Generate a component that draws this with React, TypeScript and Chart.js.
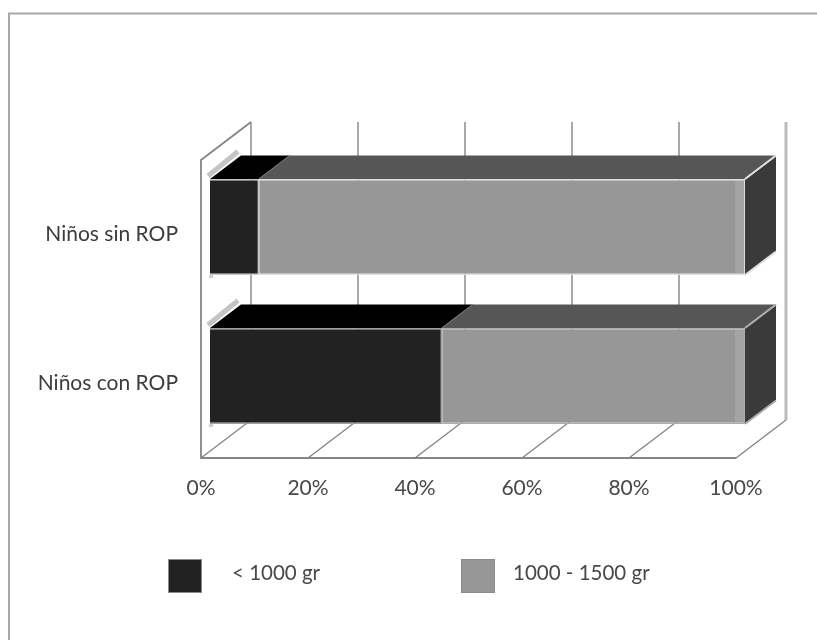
import React, { useEffect, useRef } from "react";
import { Chart, registerables } from "chart.js";

Chart.register(...registerables);

const categories = ["Niños sin ROP", "Niños con ROP"];
const under1000 = [9.2, 43.4];
const from1000to1500 = [90.8, 56.6];
const seriesNames = ["< 1000 gr", "1000 - 1500 gr"];
const percentTicks = [0, 20, 40, 60, 80, 100];

const frontColors = ["#222222", "#979797"];
const topColors = ["#000000", "#565656"];
const sideColor = "#3a3a3a";
const edgeColors = ["#dedede", "#adadad"];
const wallColor = "#858585";
const textColor = "#484848";
const fontFamily = "Lato";

// Oblique projection used for the fake 3D box
const box = {
  wallDx: 50,
  wallDy: -38,
  barDx: 9,
  barDy: -7.5,
  depthDx: 31,
  depthDy: -23.5,
};

function segment(ctx: CanvasRenderingContext2D, pts: number[][], color: string, width = 1) {
  ctx.beginPath();
  pts.forEach(([x, y], i) => (i ? ctx.lineTo(x, y) : ctx.moveTo(x, y)));
  ctx.strokeStyle = color;
  ctx.lineWidth = width;
  ctx.stroke();
}

function polygon(ctx: CanvasRenderingContext2D, pts: number[][], color: string) {
  ctx.beginPath();
  pts.forEach(([x, y], i) => (i ? ctx.lineTo(x, y) : ctx.moveTo(x, y)));
  ctx.closePath();
  ctx.fillStyle = color;
  ctx.fill();
}

const box3d = {
  id: "box3d",
  beforeDatasetsDraw(chart: any) {
    const { ctx, chartArea: area, scales } = chart;
    const { wallDx, wallDy, barDx, barDy, depthDx, depthDy } = box;
    ctx.save();
    // Outer frame, open on the right and at the bottom
    segment(ctx, [[9, chart.height], [9, 13.5], [chart.width, 13.5]], "#a8a8a8", 2);

    // Floor diagonals and back-wall verticals at every tick
    percentTicks.forEach((t) => {
      const x = scales.x.getPixelForValue(t);
      const last = t === percentTicks[percentTicks.length - 1];
      if (last) {
        segment(ctx, [[x, area.bottom], [x + wallDx, area.bottom + wallDy]], wallColor, 1.4);
        segment(ctx, [[x + wallDx, area.bottom + wallDy], [x + wallDx, area.top + wallDy]], "#bcbcbc", 3);
      } else {
        segment(ctx, [[x, area.bottom], [x + wallDx, area.bottom + wallDy], [x + wallDx, area.top + wallDy]], wallColor, 1.4);
      }
    });
    // Left wall and front floor edge
    segment(
      ctx,
      [
        [area.left + wallDx, area.top + wallDy],
        [area.left, area.top],
        [area.left, area.bottom],
        [area.right, area.bottom],
      ],
      wallColor,
      1.8,
    );

    // Bars sit slightly behind the front plane
    ctx.save();
    ctx.translate(barDx, barDy);
    chart.getSortedVisibleDatasetMetas().forEach((meta: any) => {
      meta.data.forEach((bar: any, row: number) => {
        const top = bar.y - bar.height / 2;
        const bottom = bar.y + bar.height / 2;
        const x0 = bar.base;
        const x1 = bar.x;
        polygon(
          ctx,
          [[x0, top], [x1, top], [x1 + depthDx, top + depthDy], [x0 + depthDx, top + depthDy]],
          topColors[meta.index],
        );
        if (meta.index === 0) {
          // Edge-on left face of the box
          segment(ctx, [[x0 - 2, top - 3], [x0 + depthDx - 3, top + depthDy - 4]], "#c4c4c4", 5);
          segment(ctx, [[x0 - 1, bottom + 2], [x0 + 3, bottom + 1]], "#cfcfcf", 3);
        }
        if (meta.index === 1) {
          polygon(
            ctx,
            [
              [x1, top],
              [x1 + depthDx, top + depthDy],
              [x1 + depthDx, bottom + depthDy],
              [x1, bottom],
            ],
            sideColor,
          );
          segment(ctx, [[x1, top], [x1 + depthDx, top + depthDy]], edgeColors[row], 2);
          segment(ctx, [[x1, bottom], [x1 + depthDx, bottom + depthDy]], edgeColors[row], 2);
        }
        segment(ctx, [[x1, top], [x1 + depthDx, top + depthDy]], meta.index === 0 ? "#8f8f8f" : edgeColors[row], 1.5);
      });
    });
    ctx.restore();

    ctx.translate(barDx, barDy);
  },
  afterDatasetsDraw(chart: any) {
    const { ctx } = chart;
    // Lighter strip along the right end of each lit bar
    chart.getDatasetMeta(1).data.forEach((bar: any) => {
      ctx.fillStyle = "#a4a4a4";
      ctx.fillRect(bar.x - 10, bar.y - bar.height / 2 + 2, 9, bar.height - 4);
    });
    ctx.restore();
  },
  afterDraw(chart: any) {
    // Legend row with a wide gap between swatch and text
    const { ctx } = chart;
    const swatchX = [168, 461];
    const textX = [232, 513];
    ctx.save();
    ctx.font = `20.5px ${fontFamily}`;
    ctx.textBaseline = "middle";
    chart.data.datasets.forEach((ds: any, i: number) => {
      ctx.fillStyle = ds.backgroundColor;
      ctx.fillRect(swatchX[i], 559, 34, 34);
      ctx.strokeStyle = "#8c8c8c";
      ctx.lineWidth = 1;
      ctx.strokeRect(swatchX[i] + 0.5, 559.5, 33, 33);
      ctx.fillStyle = textColor;
      ctx.fillText(ds.label, textX[i], 573);
    });
    ctx.restore();
  },
};

export default function App() {
  const canvasRef = useRef<HTMLCanvasElement>(null);

  useEffect(() => {
    const chart = new Chart(canvasRef.current as HTMLCanvasElement, {
      type: "bar",
      plugins: [box3d],
      data: {
        labels: categories,
        datasets: [
          {
            label: seriesNames[0],
            data: under1000,
            backgroundColor: frontColors[0],
            borderColor: ["#c8c8c8", "#a0a0a0"],
            borderWidth: 1.5,
            clip: false,
          },
          {
            label: seriesNames[1],
            data: from1000to1500,
            backgroundColor: frontColors[1],
            borderColor: edgeColors,
            borderWidth: 1.5,
            clip: false,
          },
        ] as any,
      },
      options: {
        indexAxis: "y",
        responsive: false,
        animation: false,
        layout: { padding: { left: 0, right: 81, top: 160, bottom: 0 } },
        datasets: { bar: { categoryPercentage: 1, barPercentage: 0.644 } },
        plugins: { legend: { display: false }, tooltip: { enabled: false } },
        scales: {
          x: {
            stacked: true,
            min: 0,
            max: 100,
            afterFit: (scale: any) => {
              scale.height = 182;
            },
            afterBuildTicks: (scale: any) => {
              scale.ticks = percentTicks.map((value) => ({ value }));
            },
            grid: { display: false },
            border: { display: false },
            ticks: {
              padding: 10,
              maxRotation: 0,
              color: textColor,
              font: { family: fontFamily, size: 21 },
              callback: (v: any) => `${v}%`,
            },
          },
          y: {
            stacked: true,
            afterFit: (scale: any) => {
              scale.width = 201;
            },
            grid: { display: false },
            border: { display: false },
            ticks: {
              padding: 15,
              color: "#3c3c3c",
              font: { family: fontFamily, size: 21 },
            },
          },
        },
      } as any,
    });
    return () => chart.destroy();
  }, []);

  return (
    <div style={{ position: "absolute", left: 0, top: 0, width: 817, height: 640, background: "#fff" }}>
      <canvas ref={canvasRef} width={817} height={640} style={{ display: "block" }} />
    </div>
  );
}
